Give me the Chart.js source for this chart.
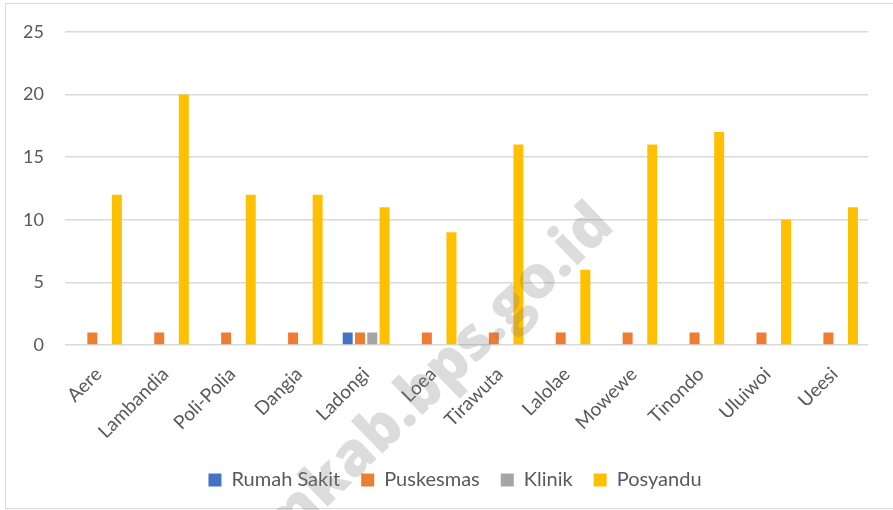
<!DOCTYPE html>
<html>
<head>
<meta charset="utf-8">
<script src="https://cdn.jsdelivr.net/npm/chart.js@4.4.1/dist/chart.umd.min.js"></script>
<style>
  html, body { margin: 0; padding: 0; background: #fff; }
  #frame { position: absolute; left: 5px; top: 3px; width: 900px; height: 504px; border: 1px solid #d9d9d9; }
  #box { position: absolute; left: 0; top: 0; width: 893px; height: 510px; }
</style>
</head>
<body>
<div id="frame"></div>
<div id="box"><canvas id="chart"></canvas></div>
<script>
const kecamatan = ["Aere", "Lambandia", "Poli-Polia", "Dangia", "Ladongi", "Loea",
  "Tirawuta", "Lalolae", "Mowewe", "Tinondo", "Uluiwoi", "Ueesi"];
const rumahSakit = [0, 0, 0, 0, 1, 0, 0, 0, 0, 0, 0, 0];
const puskesmas = [1, 1, 1, 1, 1, 1, 1, 1, 1, 1, 1, 1];
const klinik = [0, 0, 0, 0, 1, 0, 0, 0, 0, 0, 0, 0];
const posyandu = [12, 20, 12, 12, 11, 9, 16, 6, 16, 17, 10, 11];
const yTicks = [0, 5, 10, 15, 20, 25];

const textColor = "#595959";
const fontFamily = "Lato, 'Open Sans', sans-serif";

const watermark = {
  id: "watermark",
  afterLayout(chart) {
    // legend sits centred under the plot area, not the whole canvas
    chart.legend.left += 21;
    chart.legend.right += 21;
  },
  afterDraw(chart) {
    // faint site watermark across the plot, "kab.bps.go.id" about 405px long
    const ctx = chart.ctx;
    ctx.save();
    ctx.font = "800 50px 'Open Sans', sans-serif";
    const size = 50 * 405 / ctx.measureText("kab.bps.go.id").width;
    ctx.font = "800 " + size.toFixed(1) + "px 'Open Sans', sans-serif";
    ctx.translate(616, 228);
    ctx.rotate(-44 * Math.PI / 180);
    ctx.fillStyle = "rgba(128,128,128,0.28)";
    ctx.textAlign = "right";
    ctx.textBaseline = "alphabetic";
    ctx.fillText("koltimkab.bps.go.id", 0, 0);
    ctx.restore();
  },
};

const bar = (label, data, color) => ({
  label: label,
  data: data,
  backgroundColor: color,
  borderWidth: 0,
  categoryPercentage: 0.735,
  barPercentage: 0.81,
});

new Chart(document.getElementById("chart"), {
  type: "bar",
  plugins: [watermark],
  data: {
    labels: kecamatan,
    datasets: [
      bar("Rumah Sakit", rumahSakit, "#4472C4"),
      bar("Puskesmas", puskesmas, "#ED7D31"),
      bar("Klinik", klinik, "#A5A5A5"),
      bar("Posyandu", posyandu, "#FFC000"),
    ],
  },
  options: {
    responsive: true,
    maintainAspectRatio: false,
    animation: false,
    layout: { padding: { left: 0, right: 25, top: 19, bottom: 10 } },
    plugins: {
      tooltip: { enabled: false },
      legend: {
        position: "bottom",
        labels: {
          color: textColor,
          font: { family: fontFamily, size: 20 },
          boxWidth: 13,
          boxHeight: 13,
          padding: 21,
        },
      },
    },
    scales: {
      x: {
        grid: { display: false },
        border: { display: false },
        ticks: {
          color: textColor,
          font: { family: fontFamily, size: 19 },
          minRotation: 45,
          maxRotation: 45,
          padding: 10,
        },
        afterFit: (s) => { s.height = 104; },
      },
      y: {
        min: 0,
        max: 25,
        afterBuildTicks: (s) => { s.ticks = yTicks.map((v) => ({ value: v })); },
        grid: { color: "#D9D9D9", lineWidth: 1.5, drawTicks: false },
        border: { display: false },
        ticks: {
          color: textColor,
          font: { family: fontFamily, size: 18 },
          padding: 21,
        },
        afterFit: (s) => { s.width = 65; },
      },
    },
  },
});
</script>
</body>
</html>
